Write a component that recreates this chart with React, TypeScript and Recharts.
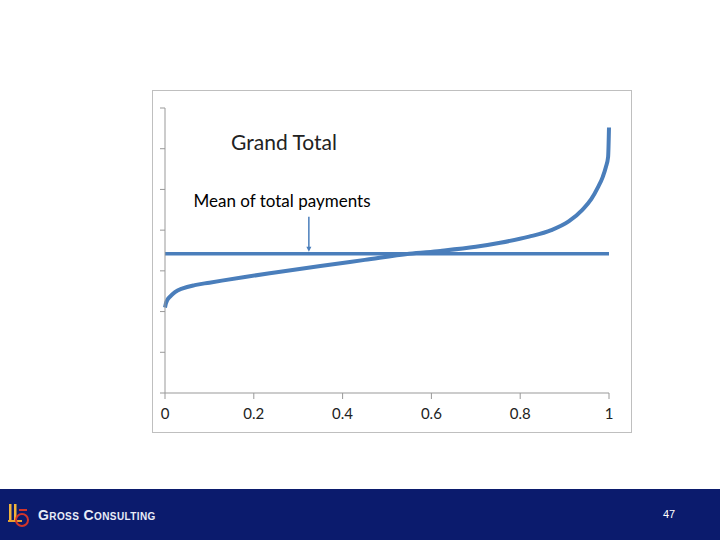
import { LineChart, Line, XAxis, YAxis, ReferenceLine } from 'recharts'

// share of claimants (sorted) vs. total payments
const shares = [0, 0.002, 0.005, 0.0125, 0.0225, 0.04, 0.067, 0.1, 0.128, 0.18, 0.248, 0.35, 0.45, 0.55, 0.62, 0.7, 0.755, 0.82, 0.87, 0.91, 0.94, 0.96, 0.975, 0.986, 0.993, 0.998, 1]
const payments = [2.1, 2.2, 2.28, 2.38, 2.48, 2.57, 2.65, 2.71, 2.76, 2.85, 2.96, 3.12, 3.27, 3.42, 3.49, 3.59, 3.69, 3.84, 4.0, 4.22, 4.5, 4.76, 5.05, 5.31, 5.55, 5.8, 6.52]
const meanPayment = 3.42
const xTicks = [0, 0.2, 0.4, 0.6, 0.8, 1]
const yTicks = [0, 1, 2, 3, 4, 5, 6, 7]

const title = 'Grand Total'
const note = 'Mean of total payments'
const company = 'Gross Consulting'
const pageNo = '47'

const blue = '#4a7ebb'
const font = 'Lato, "Open Sans", sans-serif'

const Arrow = (p: any) => {
  const { x1, y1, x2, y2 } = p
  return (
    <g>
      <line x1={x1} y1={y1} x2={x2} y2={y2 - 3} stroke={blue} strokeWidth={1.5} />
      <path d={`M${x2 - 2.5},${y2 - 5} L${x2 + 2.5},${y2 - 5} L${x2},${y2} Z`} fill={blue} />
    </g>
  )
}

export default function App() {
  const data = shares.map((s, i) => ({ s, v: payments[i] }))

  return (
    <div style={{ position: 'absolute', left: 0, top: 0, width: 720, height: 540, background: '#fff', overflow: 'hidden', fontFamily: font }}>
      <div style={{ position: 'absolute', left: 152, top: 90, width: 478, height: 341, border: '1px solid #bfbfbf' }} />
      <div style={{ position: 'absolute', left: 0, top: 0 }}>
        <LineChart width={720} height={540} data={data} margin={{ top: 108, right: 111, bottom: 117, left: 145 }}>
          <XAxis
            dataKey="s"
            type="number"
            domain={[0, 1]}
            ticks={xTicks}
            tick={{ fill: '#222', fontSize: 15, fontFamily: font }}
            tickMargin={9}
            stroke="#999"
            height={30}
          />
          <YAxis
            type="number"
            domain={[0, 7]}
            ticks={yTicks}
            tickFormatter={() => ''}
            stroke="#999"
            tickSize={5}
            width={20}
          />
          <ReferenceLine y={meanPayment} stroke={blue} strokeWidth={3.5} />
          <ReferenceLine
            segment={[{ x: 0.324, y: 4.33 }, { x: 0.324, y: 3.47 }]}
            shape={Arrow}
          />
          <Line
            type="monotone"
            dataKey="v"
            stroke={blue}
            strokeWidth={4}
            dot={false}
            isAnimationActive={false}
          />
        </LineChart>
      </div>
      <div style={{ position: 'absolute', left: 184, top: 129, width: 200, textAlign: 'center', fontSize: 21, color: '#222' }}>{title}</div>
      <div style={{ position: 'absolute', left: 162, top: 190, width: 240, textAlign: 'center', fontSize: 17, color: '#000' }}>{note}</div>

      <div style={{ position: 'absolute', left: 0, top: 489, width: 720, height: 51, background: '#0b1b6d' }}>
        <svg width={30} height={30} style={{ position: 'absolute', left: 5, top: 13 }}>
          <rect x={4} y={2} width={2.5} height={18} fill="#f2b43c" />
          <rect x={9} y={2} width={2.5} height={18} fill="#f2b43c" />
          <path d="M3,19 L17,19" stroke="#e8a230" strokeWidth={2} />
          <circle cx={17} cy={18} r={6} fill="none" stroke="#d2352b" strokeWidth={2} />
          <path d="M14,8 L22,8" stroke="#d2352b" strokeWidth={2} />
        </svg>
        <div style={{ position: 'absolute', left: 38, top: 18, fontFamily: '"Liberation Sans", Arial, sans-serif', fontWeight: 'bold', fontSize: 14, fontVariant: 'small-caps', color: '#e8ecf8', letterSpacing: 0.4 }}>{company}</div>
        <div style={{ position: 'absolute', left: 663, top: 19, fontFamily: '"Liberation Sans", Arial, sans-serif', fontSize: 11, color: '#fff' }}>{pageNo}</div>
      </div>
    </div>
  )
}
